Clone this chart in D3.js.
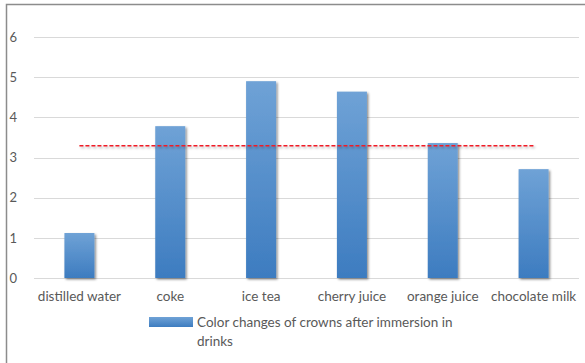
<!DOCTYPE html>
<html lang="en">
<head>
<meta charset="UTF-8">
<title>Color changes</title>
<script src="https://cdn.jsdelivr.net/npm/d3@7"></script>
<style>
    body { margin: 0; background: #fff; }
    text { font-family: Lato, "Open Sans", sans-serif; fill: #595959; }
    .grid line { stroke: #d9d9d9; stroke-width: 1; }
</style>
</head>
<body>
<svg width="585" height="363"></svg>
<script>
    var drinks = ["distilled water", "coke", "ice tea", "cherry juice", "orange juice", "chocolate milk"];
    var colorChange = [1.12, 3.78, 4.9, 4.64, 3.36, 2.71];
    var yTicks = [0, 1, 2, 3, 4, 5, 6];
    var refValue = [3.29];
    var legendLines = ["Color changes of crowns after immersion in", "drinks"];

    var svg = d3.select("svg");
    var plotLeft = 34, plotRight = 579, plotTop = 37, plotBottom = 278;

    var x = d3.scaleBand().domain(drinks).range([plotLeft, plotRight]);
    var y = d3.scaleLinear().domain([0, 6]).range([plotBottom, plotTop]);

    var defs = svg.append("defs");
    var grad = defs.append("linearGradient").attr("id", "barGrad")
        .attr("x1", 0).attr("y1", 0).attr("x2", 0).attr("y2", 1);
    grad.append("stop").attr("offset", "0%").attr("stop-color", "#6fa2d6");
    grad.append("stop").attr("offset", "100%").attr("stop-color", "#3d7cc0");

    var lgGrad = defs.append("linearGradient").attr("id", "lgGrad")
        .attr("x1", 0).attr("y1", 0).attr("x2", 0).attr("y2", 1);
    lgGrad.append("stop").attr("offset", "0%").attr("stop-color", "#6fa2d6");
    lgGrad.append("stop").attr("offset", "100%").attr("stop-color", "#3d7cc0");

    var shadow = defs.append("filter").attr("id", "shadow")
        .attr("x", "-30%").attr("y", "-10%").attr("width", "160%").attr("height", "130%");
    shadow.append("feDropShadow").attr("dx", 1.5).attr("dy", 1.5)
        .attr("stdDeviation", 1.3).attr("flood-color", "#000").attr("flood-opacity", 0.45);

    // horizontal line has a zero-height bbox, so use user space for the filter region
    var lineShadow = defs.append("filter").attr("id", "lineShadow")
        .attr("filterUnits", "userSpaceOnUse")
        .attr("x", 0).attr("y", 0).attr("width", 585).attr("height", 363);
    lineShadow.append("feDropShadow").attr("dx", 1.5).attr("dy", 1.5)
        .attr("stdDeviation", 1.2).attr("flood-color", "#000").attr("flood-opacity", 0.3);

    // chart border
    svg.append("path")
        .attr("d", "M6.5,363 V4.5 H585")
        .attr("fill", "none").attr("stroke", "#8c8c8c").attr("stroke-width", 1.5);

    // grid
    svg.append("g").attr("class", "grid")
        .selectAll("line").data(yTicks).enter().append("line")
        .attr("x1", plotLeft).attr("x2", plotRight)
        .attr("y1", function (d) { return Math.round(y(d)) + 0.5; })
        .attr("y2", function (d) { return Math.round(y(d)) + 0.5; });

    // y axis labels
    var yAxis = d3.axisLeft(y).tickValues(yTicks).tickFormat(d3.format("d"))
        .tickSize(0).tickPadding(17);
    svg.append("g").attr("transform", "translate(" + plotLeft + ",0)").call(yAxis)
        .call(function (g) { g.select(".domain").remove(); })
        .selectAll("text")
        .style("font-family", "Lato, sans-serif")
        .attr("font-size", 13).attr("fill", "#595959");

    // bars
    var barW = 30;
    svg.append("g").selectAll("rect").data(colorChange).enter().append("rect")
        .attr("x", function (d, i) { return x(drinks[i]) + x.bandwidth() / 2 - barW / 2; })
        .attr("y", function (d) { return y(d); })
        .attr("width", barW)
        .attr("height", function (d) { return y(0) - y(d); })
        .attr("fill", "url(#barGrad)")
        .attr("filter", "url(#shadow)");

    // average line
    svg.append("g").selectAll("line").data(refValue).enter().append("line")
        .attr("x1", x(drinks[0]) + x.bandwidth() / 2)
        .attr("x2", x(drinks[drinks.length - 1]) + x.bandwidth() / 2)
        .attr("y1", function (d) { return y(d); })
        .attr("y2", function (d) { return y(d); })
        .attr("stroke", "#ee1c25").attr("stroke-width", 1.5)
        .attr("stroke-dasharray", "4,2")
        .attr("filter", "url(#lineShadow)");

    // x axis labels
    var xAxis = d3.axisBottom(x).tickSize(0).tickPadding(13);
    svg.append("g").attr("transform", "translate(0," + plotBottom + ")").call(xAxis)
        .call(function (g) { g.select(".domain").remove(); })
        .selectAll("text")
        .style("font-family", "Lato, sans-serif")
        .attr("font-size", 13.5).attr("fill", "#595959");

    // legend
    svg.append("rect")
        .attr("x", 149).attr("y", 317).attr("width", 44).attr("height", 10)
        .attr("fill", "url(#lgGrad)");
    svg.append("g").selectAll("text").data(legendLines).enter().append("text")
        .attr("x", 197)
        .attr("y", function (d, i) { return 327 + i * 19; })
        .attr("font-size", 13.5)
        .text(function (d) { return d; });
</script>
</body>
</html>
